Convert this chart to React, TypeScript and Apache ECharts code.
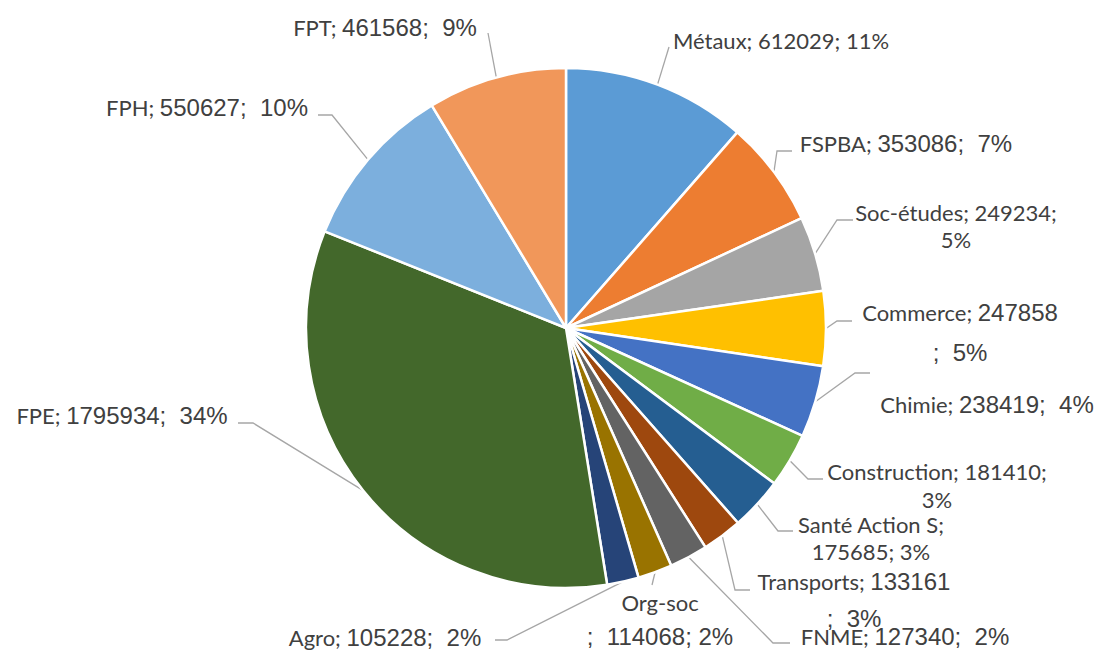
import React, { useEffect, useRef } from "react";
import * as echarts from "echarts";

const categories = [
  "Métaux", "FSPBA", "Soc-études", "Commerce", "Chimie", "Construction",
  "Santé Action S", "Transports", "FNME", "Org-soc", "Agro", "FPE", "FPH", "FPT",
];
const values = [
  612029, 353086, 249234, 247858, 238419, 181410,
  175685, 133161, 127340, 114068, 105228, 1795934, 550627, 461568,
];
const percentLabels = [11, 7, 5, 5, 4, 3, 3, 3, 2, 2, 2, 34, 10, 9];
const colors = [
  "#5B9BD5", "#ED7D31", "#A5A5A5", "#FFC000", "#4472C4", "#70AD47",
  "#255E91", "#9E480E", "#636363", "#997300", "#264478", "#43682B", "#7CAFDD", "#F1975A",
];

// label formats (which font parts, line breaks)
const formats = [
  "allN", "nv", "nv2N", "nvBreak", "nv", "nv2N",
  "nameBreakN", "nvBreak", "nv", "orgsoc", "nv", "nv", "nv", "nv",
];
// label layout: center x, center y, line height, elbow point, end point
const layouts = [
  { x: 781, y: 40, lh: 28, e: [669, 47], f: [669, 47] },
  { x: 906, y: 143, lh: 28, e: [777, 151], f: [792, 151] },
  { x: 956, y: 226, lh: 27, e: [837, 220], f: [853, 220] },
  { x: 960, y: 332, lh: 40, e: [837, 321], f: [852, 321] },
  { x: 987, y: 404, lh: 28, e: [855, 373], f: [870, 373] },
  { x: 937, y: 485, lh: 28, e: [808, 479], f: [823, 479] },
  { x: 871, y: 538, lh: 27, e: [778, 531], f: [793, 531] },
  { x: 854, y: 600, lh: 37, e: [735, 590], f: [750, 590] },
  { x: 905, y: 636, lh: 28, e: [773, 643], f: [790, 643] },
  { x: 660, y: 619, lh: 34, e: [652, 585], f: [652, 585] },
  { x: 385, y: 637, lh: 28, e: [507, 640], f: [495, 640] },
  { x: 122, y: 415, lh: 28, e: [253, 423], f: [238, 423] },
  { x: 207, y: 107, lh: 28, e: [332, 115], f: [318, 115] },
  { x: 385, y: 27, lh: 28, e: [488, 33], f: [488, 33] },
];

const CX = 566;
const CY = 328;
const R = 260;
const TEXT = "#404040";
const NAME_FONT = "Lato";
const VAL_FONT = "Liberation Sans";

function labelText(i: number): string {
  const n = categories[i];
  const v = values[i];
  const p = percentLabels[i];
  switch (formats[i]) {
    case "allN":
      return `{n|${n}; ${v}; ${p}%}`;
    case "nv2N":
      return `{n|${n}; ${v};}\n{n|${p}%}`;
    case "nvBreak":
      return `{n|${n}; }{v|${v}}\n{v|;  ${p}%}`;
    case "nameBreakN":
      return `{n|${n};}\n{n|${v}; ${p}%}`;
    case "orgsoc":
      return `{n|${n}}\n{v|;  ${v}; ${p}%}`;
    default:
      return `{n|${n}; }{v|${v};  ${p}%}`;
  }
}

export default function App() {
  const ref = useRef<HTMLDivElement>(null);
  useEffect(() => {
    document.body.style.margin = "0";
    if (!ref.current) return;
    const chart = echarts.init(ref.current, null, { renderer: "svg" });
    const total = values.reduce((a, b) => a + b, 0);
    const mids: number[] = [];
    let cum = 0;
    values.forEach((v) => {
      mids.push(((cum + v / 2) / total) * Math.PI * 2);
      cum += v;
    });
    const data = categories.map((name, i) => ({
      name,
      value: values[i],
      itemStyle: { color: colors[i] },
      label: {
        formatter: labelText(i),
        lineHeight: layouts[i].lh,
        rich: {
          n: { fontFamily: NAME_FONT, fontSize: 22, color: TEXT, lineHeight: layouts[i].lh },
          v: { fontFamily: VAL_FONT, fontSize: 24, color: TEXT, lineHeight: layouts[i].lh },
        },
      },
    }));
    chart.setOption({
      animation: false,
      backgroundColor: "#ffffff",
      series: [
        {
          type: "pie",
          center: [CX, CY],
          radius: R,
          startAngle: 90,
          clockwise: true,
          avoidLabelOverlap: false,
          itemStyle: { borderColor: "#ffffff", borderWidth: 2.5 },
          label: { show: true, position: "outside", align: "center", color: TEXT },
          labelLine: { show: true, length: 10, length2: 10, lineStyle: { color: "#A6A6A6", width: 1.3 } },
          emphasis: { disabled: true },
          labelLayout: (params: any) => {
            const i = params.dataIndex;
            const L = layouts[i];
            const a = mids[i];
            const s = [CX + R * Math.sin(a), CY - R * Math.cos(a)];
            return {
              x: L.x,
              y: L.y,
              align: "center",
              verticalAlign: "middle",
              labelLinePoints: [s, L.e, L.f],
            };
          },
          data,
        },
      ],
    });
    return () => chart.dispose();
  }, []);
  return <div ref={ref} style={{ width: 1101, height: 650 }} />;
}
